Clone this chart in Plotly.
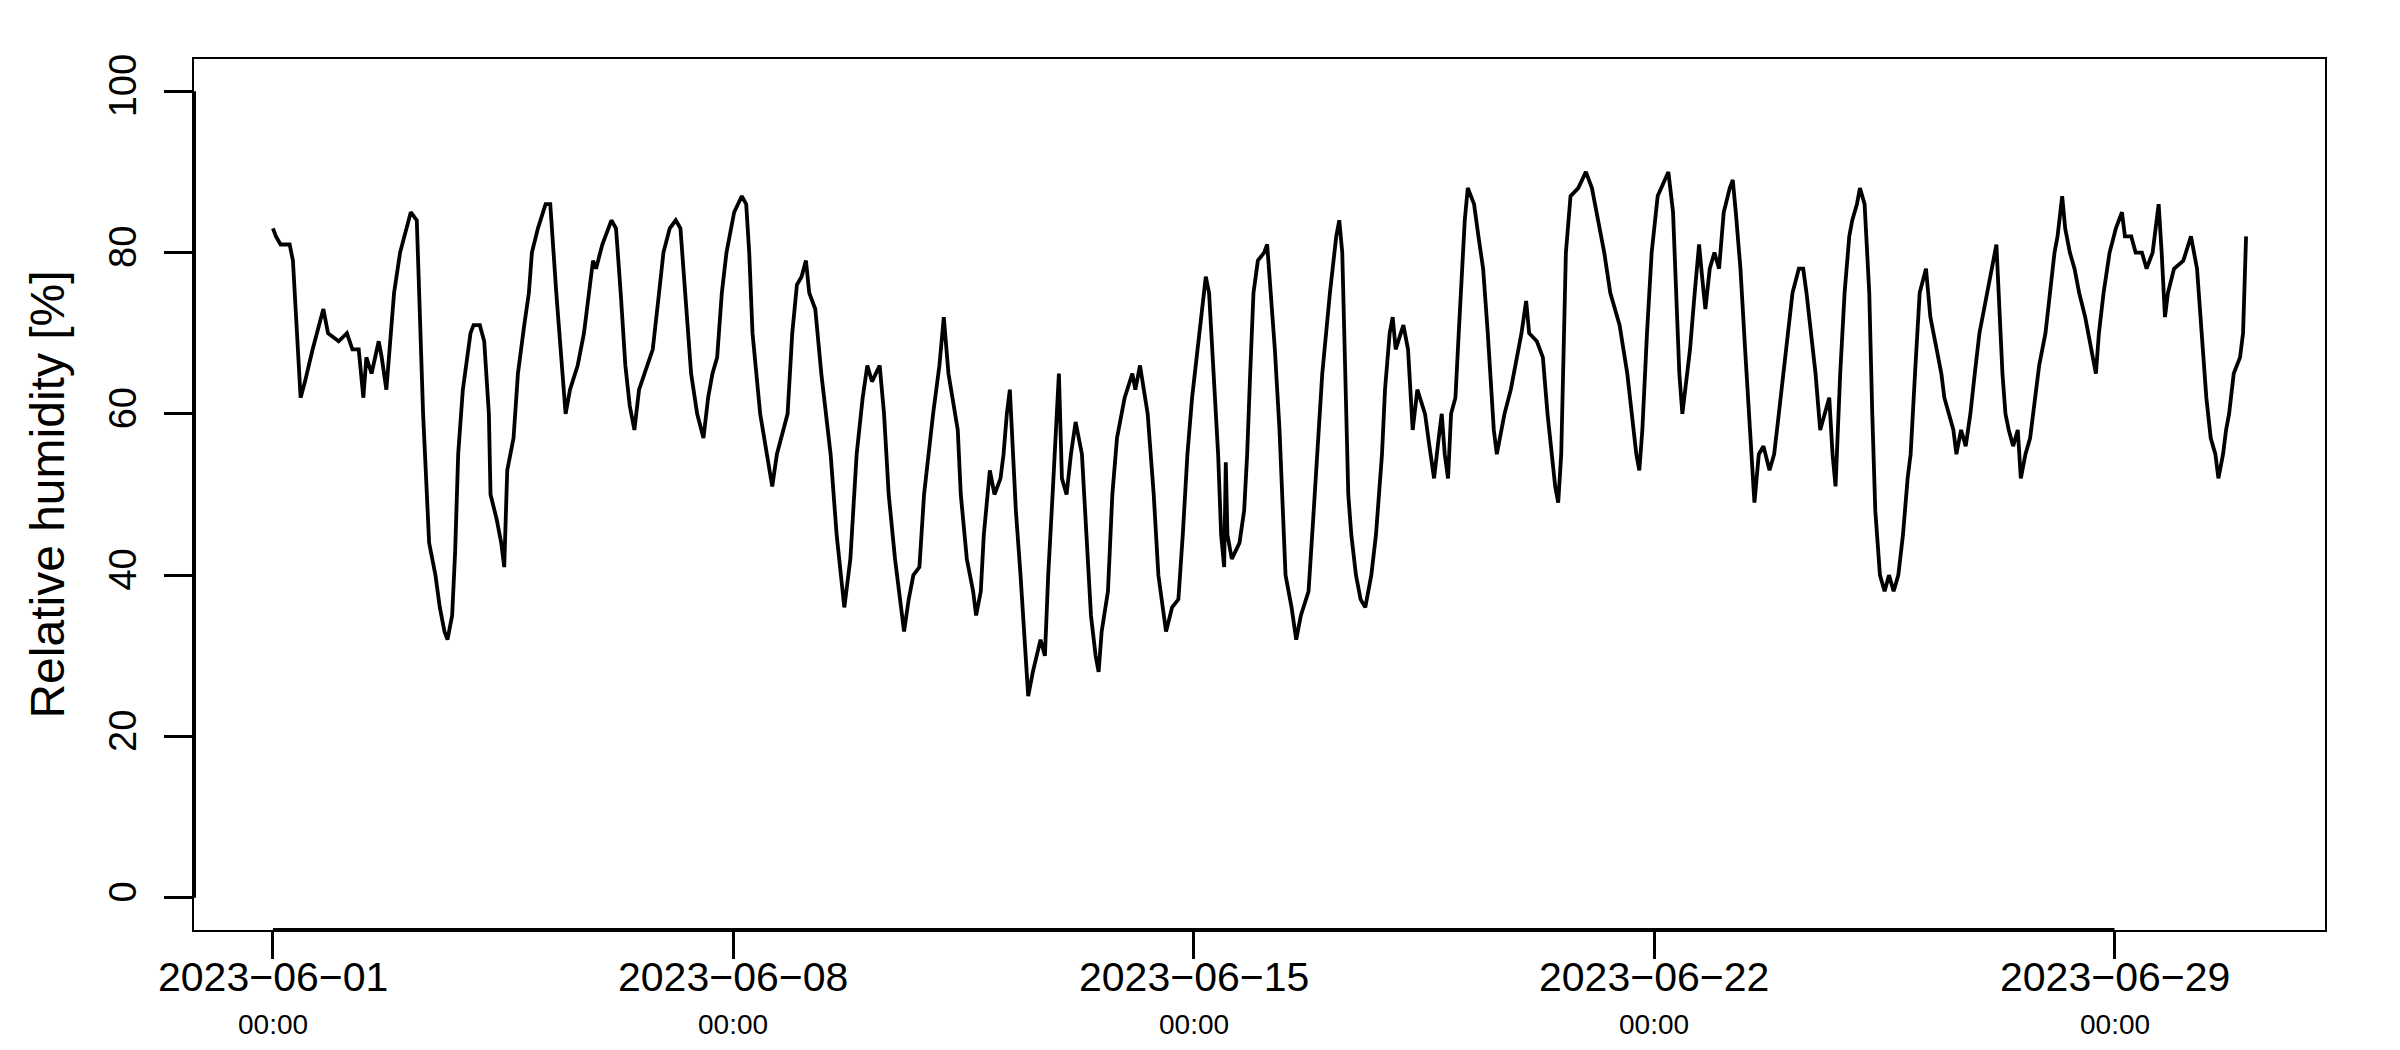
import pandas as pd
import plotly.graph_objects as go

# ---- data (hours since 2023-06-01 00:00, relative humidity %) ----
hours = [0, 1.1, 2.8, 6.1, 7.3, 9.5, 10.1, 11.7, 14.5, 18.4, 20.1, 24, 27, 29, 31.3, 33, 34.1, 36, 38.6, 39.7,
         41.4, 44.2, 46.4, 50.3, 52.5, 54.8, 57, 59.3, 60.9, 62.6, 63.7, 65.4, 66.5, 67.6, 69.3, 72.1, 73.2, 75.5, 77.1, 78.8,
         79.4, 81.6, 83.3, 84.4, 85.5, 87.8, 89.4, 91.7, 93.4, 94.5, 96.7, 99.5, 101.2, 103.4, 105.7, 106.8, 108.4, 111.2, 113.5, 115.2,
         116.8, 117.9, 120.2, 123.5, 125.2, 126.9, 128.6, 130.2, 131.9, 133.6, 136.4, 138.6, 140.9, 142.5, 144.8, 147.0, 148.7, 150.4, 152.6, 154.8,
         157.1, 158.8, 160.4, 162.1, 163.8, 165.5, 168.3, 171.1, 172.7, 173.8, 175.0, 177.8, 181.1, 182.2, 183.9, 186.1, 187.8, 189.5, 191.2, 192.9,
         194.5, 195.7, 197.9, 200.1, 203.5, 205.7, 208.0, 208.5, 210.7, 213.0, 215.2, 216.9, 218.6, 221.4, 223.0, 224.7, 227.0, 229.2, 230.3, 232.0,
         233.7, 235.9, 237.6, 240.9, 243.2, 244.8, 246.5, 249.9, 251.0, 253.2, 255.5, 256.6, 258.3, 259.4, 261.6, 263.3, 265.5, 266.6, 267.8, 268.9,
         270.0, 271.1, 272.8, 274.5, 275.6, 277.3, 280.1, 281.7, 282.9, 284.5, 286.2, 286.8, 287.9, 289.6, 291.2, 292.9, 295.2, 296.8, 298.5, 300.2,
         301.3, 302.4, 304.7, 306.3, 308.0, 310.8, 313.6, 314.7, 316.4, 319.2, 321.4, 323.1, 324.8, 325.9, 328.1, 330.4, 332.0, 333.7, 335.4, 337.1,
         338.8, 340.4, 341.6, 343.2, 344.9, 346.0, 347.1, 347.7, 348.3, 349.9, 352.7, 354.4, 355.5, 356.6, 357.8, 359.4, 361.7, 362.8, 363.9, 365.6,
         367.3, 368.4, 369.5, 371.7, 373.4, 375.1, 377.9, 379.6, 381.2, 382.9, 385.7, 388.0, 389.1, 390.2, 391.3, 392.4, 393.5, 395.2, 396.9, 398.6,
         400.8, 402.5, 404.7, 405.8, 407.5, 408.6, 409.7, 411.4, 412.5, 414.2, 415.3, 415.9, 417.6, 420.4, 422.0, 423.7, 425.4, 426.5, 427.6, 428.8,
         429.9, 431.5, 432.7, 433.8, 434.9, 436.0, 438.3, 439.9, 441.6, 443.3, 444.4, 445.5, 446.6, 447.8, 449.4, 451.7, 453.3, 455.6, 457.3, 458.4,
         461.2, 463.4, 465.1, 466.8, 467.9, 469.0, 470.1, 471.8, 473.5, 476.3, 479.1, 481.3, 483.5, 485.8, 488.0, 491.4, 494.2, 495.8, 497.5, 498.6,
         499.7, 501.4, 503.1, 505.3, 508.1, 509.2, 510.9, 512.0, 513.2, 514.3, 515.4, 517.1, 518.8, 520.4, 521.5, 522.7, 524.3, 526.0, 527.7, 529.4,
         531.6, 532.7, 533.8, 535.5, 537.2, 538.9, 540.0, 540.6, 542.2, 543.9, 546.1, 547.8, 549.5, 551.2, 552.8, 554.5, 556.8, 558.4, 559.6, 561.2,
         562.9, 564.6, 566.3, 567.9, 569.1, 570.2, 571.9, 573.5, 575.2, 576.3, 578.0, 579.1, 580.8, 582.5, 583.6, 584.7, 586.4, 588.1, 589.7, 591.4,
         593.1, 594.8, 596.5, 597.6, 599.2, 600.9, 603.2, 604.8, 607.1, 608.8, 609.9, 611.5, 613.2, 614.3, 616.0, 617.7, 619.4, 621.0, 622.7, 624.4,
         626.1, 627.8, 628.9, 630.0, 631.1, 632.2, 633.4, 635.0, 636.7, 637.8, 639.5, 641.2, 642.9, 644.5, 646.8, 648.4, 650.1, 651.2, 652.4, 652.9,
         654.0, 655.7, 657.4, 659.1, 661.3, 663.5, 665.2, 666.3, 668.0, 670.2, 672.5, 674.7, 675.8, 678.1, 679.7, 682.0, 683.7, 685.9, 688.1, 689.2,
         690.4, 691.5, 693.7, 697.1, 699.9, 702.1, 703.8, 705.5, 707.1, 708.8, 709.9, 711.6, 712.7, 713.8, 715.5, 717.8, 718.9, 720.0]

humidity = [83, 82, 81, 81, 79, 65, 62, 64, 68, 73, 70, 69, 70, 68, 68, 62, 67, 65, 69, 67,
            63, 75, 80, 85, 84, 60, 44, 40, 36, 33, 32, 35, 43, 55, 63, 70, 71, 71, 69, 60,
            50, 47, 44, 41, 53, 57, 65, 71, 75, 80, 83, 86, 86, 75, 65, 60, 63, 66, 70, 75,
            79, 78, 81, 84, 83, 75, 66, 61, 58, 63, 66, 68, 75, 80, 83, 84, 83, 75, 65, 60,
            57, 62, 65, 67, 75, 80, 85, 87, 86, 80, 70, 60, 53, 51, 55, 58, 60, 70, 76, 77,
            79, 75, 73, 65, 55, 45, 38, 36, 42, 55, 62, 66, 64, 66, 60, 50, 42, 36, 33, 37,
            40, 41, 50, 60, 66, 72, 65, 58, 50, 42, 38, 35, 38, 45, 53, 50, 52, 55, 60, 63,
            55, 48, 40, 30, 25, 28, 32, 30, 40, 50, 63, 65, 52, 50, 55, 59, 55, 45, 35, 30,
            28, 33, 38, 50, 57, 62, 65, 63, 66, 60, 50, 40, 36, 33, 36, 37, 45, 55, 62, 67,
            73, 77, 75, 65, 55, 45, 41, 54, 45, 42, 44, 48, 55, 65, 75, 79, 80, 81, 76, 68,
            58, 48, 40, 36, 32, 35, 38, 47, 55, 65, 75, 82, 84, 80, 65, 50, 45, 40, 37, 36,
            40, 45, 55, 63, 70, 72, 68, 70, 71, 68, 62, 58, 63, 60, 56, 52, 57, 60, 55, 52,
            60, 62, 70, 78, 84, 88, 86, 82, 78, 70, 63, 58, 55, 57, 60, 63, 66, 70, 74, 70,
            69, 67, 60, 55, 51, 49, 55, 80, 87, 88, 90, 88, 84, 80, 75, 71, 65, 60, 55, 53,
            58, 70, 80, 87, 89, 90, 85, 75, 65, 60, 63, 68, 75, 81, 77, 73, 78, 80, 78, 85,
            88, 89, 85, 78, 68, 58, 52, 49, 55, 56, 53, 55, 60, 65, 70, 75, 78, 78, 75, 70,
            65, 58, 60, 62, 55, 51, 65, 75, 82, 84, 86, 88, 86, 75, 60, 48, 40, 38, 40, 38,
            40, 45, 52, 55, 65, 75, 78, 72, 68, 65, 62, 60, 58, 55, 58, 56, 60, 65, 70, 73,
            76, 79, 81, 73, 65, 60, 58, 56, 58, 52, 55, 57, 62, 66, 70, 75, 80, 82, 85, 87,
            83, 80, 78, 75, 72, 68, 65, 70, 75, 80, 83, 85, 82, 82, 80, 80, 78, 80, 86, 80,
            72, 75, 78, 79, 82, 78, 70, 62, 57, 55, 52, 55, 58, 60, 65, 67, 70, 82]

start_time = "2023-06-01 00:00"
tick_dates = ["2023-06-01", "2023-06-08", "2023-06-15", "2023-06-22", "2023-06-29"]
tick_labels = ["2023\u221206\u221201", "2023\u221206\u221208", "2023\u221206\u221215",
               "2023\u221206\u221222", "2023\u221206\u221229"]
tick_times = ["00:00", "00:00", "00:00", "00:00", "00:00"]
y_ticks = [0, 20, 40, 60, 80, 100]

times = pd.Timestamp(start_time) + pd.to_timedelta(hours, unit="h")

FONT = "Liberation Sans, Arial, Helvetica, sans-serif"

fig = go.Figure()
fig.add_trace(go.Scatter(x=times, y=humidity, mode="lines",
                         line=dict(color="black", width=3.8), showlegend=False,
                         hoverinfo="skip"))

# x range: data span extended by 4% on each side (R style)
t0 = times[0]
t1 = times[-1]
pad = (t1 - t0) * 0.04
fig.update_xaxes(type="date", range=[t0 - pad, t1 + pad],
                 tickvals=tick_dates, showticklabels=False,
                 showgrid=False, zeroline=False,
                 showline=True, mirror=True, linecolor="black", linewidth=2,
                 ticks="outside", ticklen=27, tickwidth=2.5, tickcolor="black")
fig.update_yaxes(range=[-4, 104], tickvals=y_ticks,
                 showgrid=False, zeroline=False,
                 showline=True, mirror=True, linecolor="black", linewidth=2,
                 ticks="outside", ticklen=28, tickwidth=2.5, tickcolor="black",
                 tickangle=-90,
                 tickfont=dict(family=FONT, size=38, color="black"),
                 ticklabelstandoff=13,
                 title=dict(text="Relative humidity [%]",
                            font=dict(family=FONT, size=48, color="black"),
                            standoff=22))

# thicker axis segments between first and last tick (as R draws them)
fig.add_shape(type="line", xref="x", yref="paper", x0=tick_dates[0], x1=tick_dates[-1],
              y0=0, y1=0, line=dict(color="black", width=4))
fig.add_shape(type="line", xref="paper", yref="y", x0=0, x1=0, y0=y_ticks[0], y1=y_ticks[-1],
              line=dict(color="black", width=4))

# two-line x tick labels: date and time
for d, lab, t in zip(tick_dates, tick_labels, tick_times):
    fig.add_annotation(x=d, xref="x", y=-0.054, yref="paper", text=lab, showarrow=False,
                       font=dict(family=FONT, size=41, color="black"),
                       xanchor="center", yanchor="middle")
    fig.add_annotation(x=d, xref="x", y=-0.108, yref="paper", text=t, showarrow=False,
                       font=dict(family=FONT, size=28, color="black"),
                       xanchor="center", yanchor="middle")

fig.update_layout(width=2400, height=1050,
                  margin=dict(l=186, r=83, t=51, b=128, autoexpand=False),
                  paper_bgcolor="white", plot_bgcolor="white")

fig.write_html("out.html")
